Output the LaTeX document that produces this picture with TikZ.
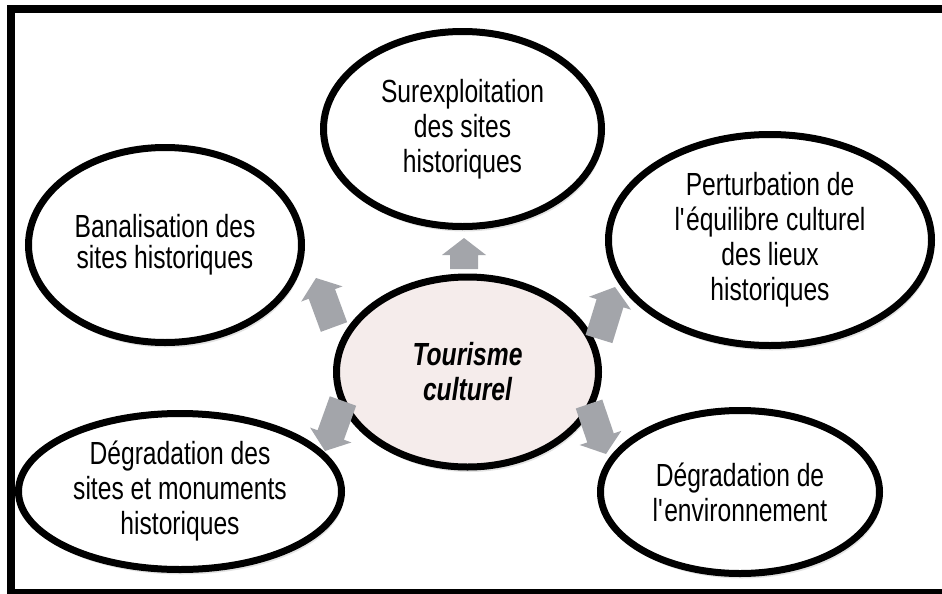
\documentclass[tikz,border=0pt]{standalone}
\usepackage{fontspec}
\setmainfont[FakeStretch=0.77]{Liberation Sans}
\usetikzlibrary{shapes.geometric,shadows,calc}

\definecolor{arrowgray}{RGB}{163,165,170}
\definecolor{hubpink}{RGB}{245,236,235}

\tikzset{
  bubble/.style={ellipse, draw=black, line width=3.5pt, fill=white, align=center,
    inner sep=0pt, font=\fontsize{16}{17.5}\selectfont,
    drop shadow={shadow xshift=1pt, shadow yshift=-2.5pt, opacity=0.22}},
  hub/.style={bubble, fill=hubpink, font=\fontsize{16}{17.5}\selectfont\bfseries\itshape}
}

\begin{document}
\begin{tikzpicture}[x=0.5pt,y=-0.5pt]

\useasboundingbox (0,0) rectangle (942,594);

% frame
\draw[line width=4pt] (10.5,9) rectangle (950,593);

\node[bubble, minimum width=139pt, minimum height=97.5pt] (sur) at (462.5,129)
  {Surexploitation\\des sites\\historiques};
\node[bubble, minimum width=136.5pt, minimum height=97.5pt,
  font=\fontsize{16}{15.5}\selectfont] (ban) at (165,245)
  {Banalisation des\\sites historiques};
\node[bubble, minimum width=161.5pt, minimum height=105.5pt] (per) at (770,240)
  {Perturbation de\\l\textquotesingle équilibre culturel\\des lieux\\historiques};
\node[hub, minimum width=131pt, minimum height=95pt] (tour) at (467.5,372)
  {Tourisme\\culturel};
\node[bubble, minimum width=161.5pt, minimum height=78pt] (dsm) at (180,491.5)
  {Dégradation des\\sites et monuments\\historiques};
\node[bubble, minimum width=139.5pt, minimum height=81.5pt] (denv) at (740,492)
  {Dégradation de\\l\textquotesingle environnement};

% block arrows
\coordinate (a1) at (464,269); \coordinate (b1) at (464,238);
\coordinate (a2) at (334,327); \coordinate (b2) at (316,278);
\coordinate (a3) at (599,339); \coordinate (b3) at (615,287);
\coordinate (a4) at (343,401); \coordinate (b4) at (325,451);
\coordinate (a5) at (589,404); \coordinate (b5) at (606,454);

\foreach \i in {1,...,5} {
  \coordinate (h) at ($(b\i)!8.5pt!(a\i)$);
  \fill[arrowgray] ($(a\i)!7pt!90:(b\i)$) -- ($(h)!7pt!90:(b\i)$)
    -- ($(h)!11pt!90:(b\i)$) -- (b\i) -- ($(h)!11pt!-90:(b\i)$)
    -- ($(h)!7pt!-90:(b\i)$) -- ($(a\i)!7pt!-90:(b\i)$) -- cycle;
}

\end{tikzpicture}
\end{document}
